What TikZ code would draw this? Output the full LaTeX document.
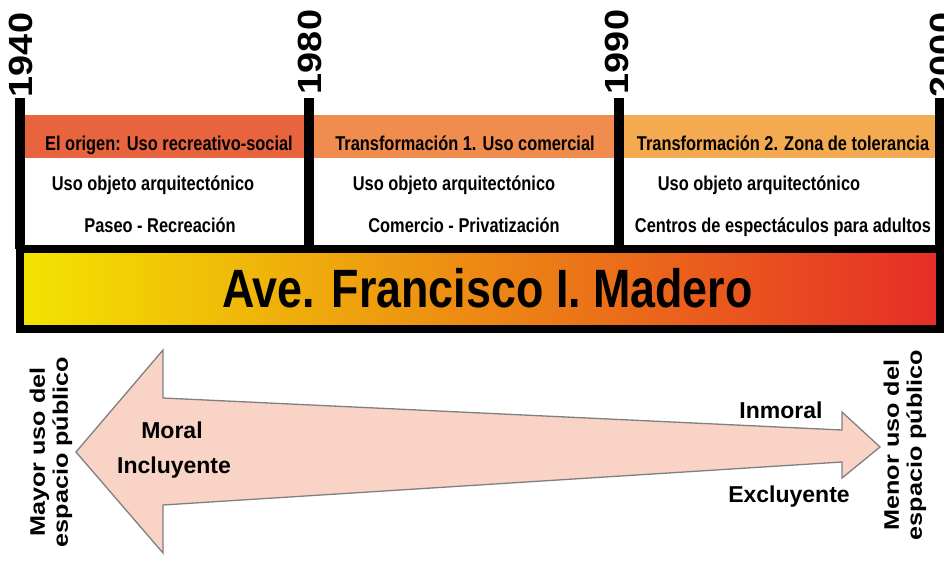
\documentclass[tikz,border=0pt]{standalone}
\usepackage{fontspec}
\setmainfont{Liberation Sans}
\newfontfamily\condb[FakeStretch=0.82]{Liberation Sans Bold}
\newfontfamily\headb[FakeStretch=0.83]{Liberation Sans Bold}
\newfontfamily\yearb[FakeStretch=1.13]{Liberation Sans Bold}
\newfontfamily\sideb[FakeStretch=1.2]{Liberation Sans Bold}
\newfontfamily\plainb{Liberation Sans Bold}
\definecolor{bandA}{HTML}{E8643F}
\definecolor{bandB}{HTML}{F08C4E}
\definecolor{bandC}{HTML}{F4AA50}
\definecolor{gradY}{HTML}{F3E400}
\definecolor{gradO}{HTML}{F39427}
\definecolor{gradR}{HTML}{E62D27}
\definecolor{arrowfill}{HTML}{F8D3C6}
\definecolor{arrowline}{HTML}{808080}
\tikzset{
  celltext/.style={anchor=base,inner sep=0pt,font=\condb\fontsize{20}{22}\selectfont},
  yeartext/.style={rotate=90,inner sep=0pt,font=\yearb\fontsize{33.5}{36}\selectfont},
  sidetext/.style={rotate=90,inner sep=0pt,align=center,font=\sideb\fontsize{21}{23}\selectfont},
  arrowtext/.style={anchor=base,inner sep=0pt,font=\plainb\fontsize{23}{25}\selectfont},
  yearbar/.style={line width=10pt,black},
}
\begin{document}
\begin{tikzpicture}[x=1pt,y=-1pt]
\useasboundingbox (0,0) rectangle (944,562);
\fill[white] (0,0) rectangle (944,562);
% header bands
\fill[bandA] (20,115) rectangle (309,158);
\fill[bandB] (309,115) rectangle (619,158);
\fill[bandC] (619,115) rectangle (940,158);
% main box
\shade[left color=gradY, middle color=gradO, right color=gradR] (20,249) rectangle (940,329);
\draw[line width=8pt,black] (20,249) rectangle (940,329);
% bars
\coordinate (b1t) at (20,98);  \coordinate (b1b) at (20,249);
\coordinate (b2t) at (309,98); \coordinate (b2b) at (309,249);
\coordinate (b3t) at (619,98); \coordinate (b3b) at (619,249);
\coordinate (b4t) at (940,98); \coordinate (b4b) at (940,249);
\draw[yearbar] (b1t) -- (b1b);
\draw[yearbar] (b2t) -- (b2b);
\draw[yearbar] (b3t) -- (b3b);
\draw[yearbar] (b4t) -- (b4b);
% years
\node[yeartext] (y1940) at (21,55) {1940};
\node[yeartext] (y1980) at (310,52) {1980};
\node[yeartext] (y1990) at (617,52) {1990};
\node[yeartext] (y2000) at (942,55) {2000};
% cells
\node[celltext] (h1) at (169,150) {El origen: Uso recreativo-social};
\node[celltext] (u1) at (153,190) {Uso objeto arquitectónico};
\node[celltext] (r1) at (160,232) {Paseo - Recreación};
\node[celltext] (h2) at (465,150) {Transformación 1. Uso comercial};
\node[celltext] (u2) at (454,190) {Uso objeto arquitectónico};
\node[celltext] (r2) at (464,232) {Comercio - Privatización};
\node[celltext] (h3) at (783,150) {Transformación 2. Zona de tolerancia};
\node[celltext] (u3) at (759,190) {Uso objeto arquitectónico};
\node[celltext] (r3) at (783,232) {Centros de espectáculos para adultos};
% title
\node[anchor=base,inner sep=0pt,font=\headb\fontsize{54}{56}\selectfont] (title) at (487.5,307) {Ave. Francisco I. Madero};
% double arrow
\draw[fill=arrowfill,draw=arrowline,line width=1.3pt,line join=miter]
  (76,452) -- (163,350) -- (163,398) -- (842,430) -- (842,412) -- (880,447)
  -- (842,478) -- (842,462) -- (163,505) -- (163,553) -- cycle;
\node[arrowtext] (moral) at (172,438) {Moral};
\node[arrowtext] (incl) at (174,473) {Incluyente};
\node[arrowtext] (inmoral) at (781,418) {Inmoral};
\node[arrowtext] (excl) at (789,502) {Excluyente};
% side labels
\node[sidetext] (mayor) at (51,452) {Mayor uso del\\espacio público};
\node[sidetext] (menor) at (905,445) {Menor uso del\\espacio público};
\end{tikzpicture}
\end{document}
